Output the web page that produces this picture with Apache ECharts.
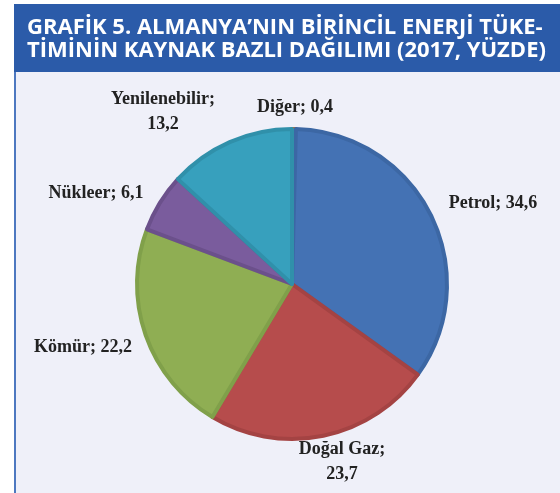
<!DOCTYPE html>
<html>
<head>
<meta charset="utf-8">
<script src="https://cdn.jsdelivr.net/npm/echarts@6/dist/echarts.min.js"></script>
<style>
    html, body { margin: 0; padding: 0; background: #ffffff; }
    #chart { width: 560px; height: 493px; }
</style>
</head>
<body>
<div id="chart"></div>
<script>
// veriler (yüzde)
let categories = ['Diğer', 'Petrol', 'Doğal Gaz', 'Kömür', 'Nükleer', 'Yenilenebilir']
let values = [0.4, 34.6, 23.7, 22.2, 6.1, 13.2]
let labelTexts = ['Diğer; 0,4', 'Petrol; 34,6', 'Doğal Gaz;\n23,7', 'Kömür; 22,2', 'Nükleer; 6,1', 'Yenilenebilir;\n13,2']

// renkler
let fills = ['#e07b2c', '#4472b4', '#b64c4c', '#8fae53', '#7a5c9d', '#37a0bd']
let borders = ['#c96c22', '#3c67a4', '#a44343', '#80a04a', '#6b508b', '#3090aa']

// etiket konumlari (piksel)
let labelPos = [[295, 107], [493, 203], [342, 462], [83, 347], [96, 193], [163, 112]]

let titleFont = 'bold 22px "Open Sans"'

let myChart = echarts.init(document.getElementById('chart'))
let seriesData = categories.map(function (name, i) {
    return {
        name: name,
        value: values[i],
        itemStyle: { color: fills[i], borderColor: borders[i], borderWidth: 4 },
        label: { formatter: labelTexts[i] }
    }
})

myChart.setOption({
    backgroundColor: '#ffffff',
    graphic: [
        // acik arka plan
        { type: 'rect', shape: { x: 14, y: 4, width: 546, height: 489 }, style: { fill: '#eff0f9' }, silent: true, z: -10 },
        // sol kenar cizgisi
        { type: 'rect', shape: { x: 14, y: 4, width: 2, height: 489 }, style: { fill: '#4d78c0' }, silent: true, z: -9 },
        // baslik bandi
        { type: 'rect', shape: { x: 14, y: 4, width: 546, height: 68 }, style: { fill: '#2b5ba9' }, silent: true, z: -8 },
        {
            type: 'text', x: 27, y: 28,
            style: { text: 'GRAFİK 5. ALMANYA’NIN BİRİNCİL ENERJİ TÜKE-', fill: '#ffffff', font: titleFont, verticalAlign: 'middle' },
            z: 10
        },
        {
            type: 'text', x: 27, y: 51,
            style: { text: 'TİMİNİN KAYNAK BAZLI DAĞILIMI (2017, YÜZDE)', fill: '#ffffff', font: titleFont, verticalAlign: 'middle' },
            z: 10
        }
    ],
    series: [{
        type: 'pie',
        center: [292, 284],
        radius: ['0%', 155],
        startAngle: 90,
        clockwise: true,
        animation: false,
        label: {
            show: true,
            position: 'outside',
            color: '#222222',
            fontFamily: 'Liberation Serif',
            fontWeight: 'bold',
            fontSize: 18,
            lineHeight: 25,
            align: 'center',
            overflow: 'none',
            width: 200
        },
        labelLine: { show: false },
        labelLayout: function (params) {
            let p = labelPos[params.dataIndex]
            return { x: p[0], y: p[1], align: 'center', verticalAlign: 'middle' }
        },
        emphasis: { disabled: true },
        data: seriesData
    }]
})
</script>
</body>
</html>
